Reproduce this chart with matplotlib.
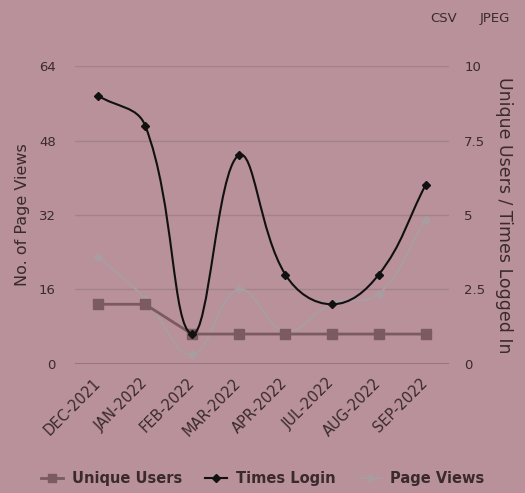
import numpy as np
import matplotlib
matplotlib.use('Agg')
import matplotlib.pyplot as plt
from matplotlib.path import Path
from matplotlib.patches import PathPatch

months = ['DEC-2021', 'JAN-2022', 'FEB-2022', 'MAR-2022',
          'APR-2022', 'JUL-2022', 'AUG-2022', 'SEP-2022']
unique_users = [2, 2, 1, 1, 1, 1, 1, 1]
times_login = [9, 8, 1, 7, 3, 2, 3, 6]
page_views = [23, 14, 2, 16, 7, 13, 15, 31]

bg = '#b8919a'
txt = '#3a2a2e'
grid_c = '#a3828a'
c_users = '#7b5a61'
c_login = '#111111'
c_views = '#aa9da1'


def spline_path(a, xs, ys, tension=0.4):
    # chart.js style cubic curve, control points worked out in pixel space
    pts = a.transData.transform(np.column_stack([xs, ys]))
    n = len(pts)
    cps = []
    for i in range(n):
        cur = pts[i]
        prev = pts[i - 1] if i > 0 else cur
        nxt = pts[i + 1] if i < n - 1 else cur
        d01 = np.hypot(*(cur - prev))
        d12 = np.hypot(*(nxt - cur))
        tot = d01 + d12
        s01 = d01 / tot if tot else 0
        s12 = d12 / tot if tot else 0
        cps.append((cur - tension * s01 * (nxt - prev),
                    cur + tension * s12 * (nxt - prev)))
    verts = [pts[0]]
    codes = [Path.MOVETO]
    for i in range(1, n):
        verts += [cps[i - 1][1], cps[i][0], pts[i]]
        codes += [Path.CURVE4] * 3
    verts = a.transData.inverted().transform(np.array(verts))
    return Path(verts, codes)


plt.rcParams['font.family'] = ['DejaVu Sans']
fig = plt.figure(figsize=(5.25, 4.93), dpi=100, facecolor=bg)
ax = fig.add_axes([0.143, 0.262, 0.712, 0.604])
ax.set_facecolor(bg)
ax2 = ax.twinx()

x = np.arange(len(months))

ax.set_ylim(0, 64)
ax.set_yticks([0, 16, 32, 48, 64])
ax2.set_ylim(0, 10)
ax2.set_yticks([0, 2.5, 5, 7.5, 10])
ax2.set_yticklabels(['0', '2.5', '5', '7.5', '10'])
ax.set_xlim(-0.5, 7.5)

for v in [16, 32, 48, 64]:
    ax.axhline(v, color=grid_c, lw=1, zorder=0)
ax.axhline(0, color='#8e6d75', lw=1.2, zorder=0)

for a in (ax, ax2):
    for s in a.spines.values():
        s.set_visible(False)
    a.tick_params(length=0, colors=txt, labelsize=9.5)
ax.tick_params(axis='y', pad=14)
ax2.tick_params(axis='y', pad=11)

ax.set_xticks(x)
ax.set_xticklabels(months, rotation=45, ha='right', va='center',
                   rotation_mode='anchor', fontsize=10.5)
ax.tick_params(axis='x', pad=12)

# page views on left axis
ax.add_patch(PathPatch(spline_path(ax, x, page_views), fill=False,
                       edgecolor=c_views, lw=1.5, zorder=2))
ax.plot(x, page_views, ls='none', marker='D', ms=4, color=c_views, zorder=3)

# users and logins on right axis
ax2.plot(x, unique_users, color=c_users, lw=2, marker='s', ms=7, zorder=2)
ax2.add_patch(PathPatch(spline_path(ax2, x, times_login), fill=False,
                        edgecolor=c_login, lw=1.5, zorder=3))
ax2.plot(x, times_login, ls='none', marker='D', ms=4.5, color=c_login,
         zorder=4)

ax.set_ylabel('No. of Page Views', color=txt, fontsize=11.5, labelpad=6)
ax2.set_ylabel('Unique Users / Times Logged In', color=txt, fontsize=12.5,
               rotation=-90, labelpad=20)

h1, = ax.plot([], [], color=c_users, lw=2, marker='s', ms=6)
h2, = ax.plot([], [], color=c_login, lw=1.5, marker='D', ms=4)
h3, = ax.plot([], [], color=c_views, lw=1.5, marker='D', ms=4)
fig.legend([h1, h2, h3], ['Unique Users', 'Times Login', 'Page Views'],
           loc='center', bbox_to_anchor=(0.5, 0.03), ncol=3, frameon=False,
           handlelength=1.5, handletextpad=0.6, columnspacing=1.6,
           prop={'weight': 'bold', 'size': 10.5}, labelcolor=txt)

fig.text(0.82, 0.962, 'CSV', fontsize=9.5, color=txt, ha='left', va='center')
fig.text(0.913, 0.962, 'JPEG', fontsize=9.5, color=txt, ha='left', va='center')

fig.savefig('out.png', dpi=100, facecolor=bg)
